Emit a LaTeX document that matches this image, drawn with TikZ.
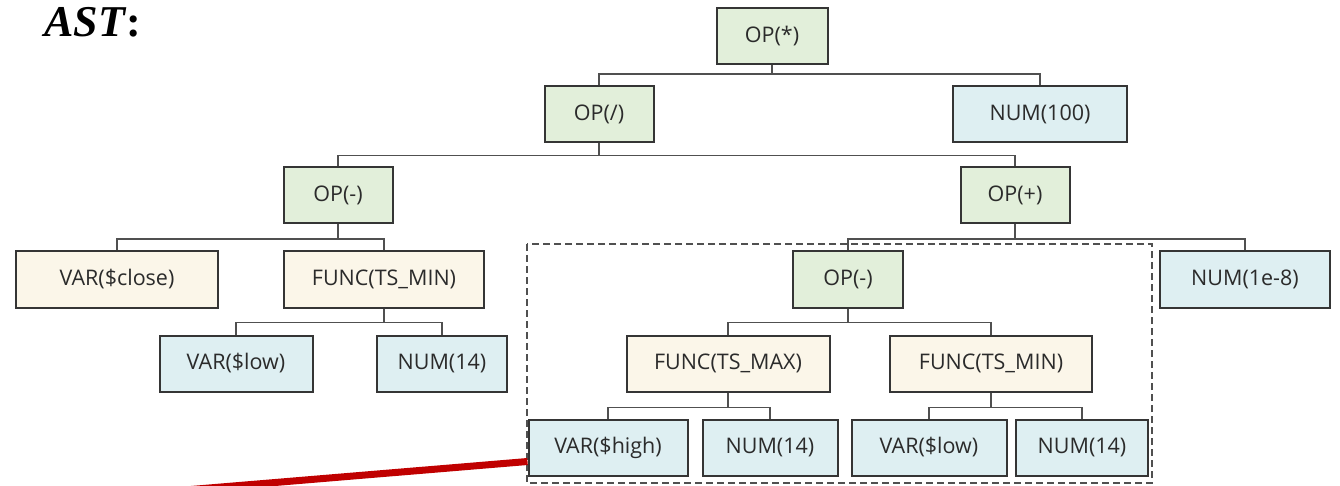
\documentclass[tikz,border=0pt]{standalone}
\usepackage{fontspec}
\setsansfont{Open Sans}
\newfontfamily\titlefont{Liberation Serif}
\usetikzlibrary{calc}
\definecolor{gfill}{HTML}{E2EFDA}
\definecolor{cfill}{HTML}{FBF6E9}
\definecolor{bfill}{HTML}{DEEFF2}
\definecolor{bord}{HTML}{353535}
\definecolor{conncol}{HTML}{505050}
\definecolor{txt}{HTML}{2B2B2B}
\definecolor{redc}{HTML}{C00000}
\tikzset{
  box/.style={draw=bord, line width=2pt, minimum height=56pt, inner sep=0pt,
    font=\sffamily\fontsize{21.5}{25}\selectfont, text=txt},
  opbox/.style={box, fill=gfill},
  fnbox/.style={box, fill=cfill},
  lfbox/.style={box, fill=bfill},
  conn/.style={draw=conncol, line width=1.7pt},
  dashbox/.style={draw=conncol, line width=1.6pt, dash pattern=on 7pt off 4pt},
  redline/.style={draw=redc, line width=7pt},
}
\begin{document}
\begin{tikzpicture}[x=1pt,y=-1pt]
\clip (0,0) rectangle (1340,486);
\node[anchor=base west, font=\titlefont\bfseries\fontsize{44}{48}\selectfont, inner sep=0pt] (title) at (44,37) {\textit{AST}:};

\node[opbox, minimum width=111pt] (root) at (772,36) {OP(*)};
\node[opbox, minimum width=109pt] (opdiv) at (599,114.5) {OP(/)};
\node[lfbox, minimum width=174pt] (num100) at (1040,114.5) {NUM(100)};
\node[opbox, minimum width=109pt] (opsub) at (338,195) {OP(-)};
\node[opbox, minimum width=109pt] (opadd) at (1015,195) {OP(+)};
\node[fnbox, minimum width=202pt] (varclose) at (117,279.5) {VAR(\$close)};
\node[fnbox, minimum width=200pt] (funcmin1) at (384,279.5) {FUNC(TS\_MIN)};
\node[lfbox, minimum width=153pt] (varlow1) at (236,363.5) {VAR(\$low)};
\node[lfbox, minimum width=130pt] (num14a) at (442,363.5) {NUM(14)};
\node[opbox, minimum width=110pt] (opsub2) at (848,279.5) {OP(-)};
\node[lfbox, minimum width=170pt] (num1e8) at (1245,279.5) {NUM(1e-8)};
\node[fnbox, minimum width=203pt] (funcmax) at (728,363.5) {FUNC(TS\_MAX)};
\node[fnbox, minimum width=202pt] (funcmin2) at (991,363.5) {FUNC(TS\_MIN)};
\node[lfbox, minimum width=159pt] (varhigh) at (608,447.5) {VAR(\$high)};
\node[lfbox, minimum width=135pt] (num14b) at (770,447.5) {NUM(14)};
\node[lfbox, minimum width=155pt] (varlow2) at (929,447.5) {VAR(\$low)};
\node[lfbox, minimum width=132pt] (num14c) at (1082,447.5) {NUM(14)};

\draw[conn] (root.south) -- ++(0,9) -| (opdiv.north);
\draw[conn] (root.south) -- ++(0,9) -| (num100.north);
\draw[conn] (opdiv.south) -- ++(0,12) -| (opsub.north);
\draw[conn] (opdiv.south) -- ++(0,12) -| (opadd.north);
\draw[conn] (opsub.south) -- ++(0,15) -| (varclose.north);
\draw[conn] (opsub.south) -- ++(0,15) -| (funcmin1.north);
\draw[conn] (funcmin1.south) -- ++(0,14) -| (varlow1.north);
\draw[conn] (funcmin1.south) -- ++(0,14) -| (num14a.north);
\draw[conn] (opadd.south) -- ++(0,15) -| (opsub2.north);
\draw[conn] (opadd.south) -- ++(0,15) -| (num1e8.north);
\draw[conn] (opsub2.south) -- ++(0,14) -| (funcmax.north);
\draw[conn] (opsub2.south) -- ++(0,14) -| (funcmin2.north);
\draw[conn] (funcmax.south) -- ++(0,15) -| (varhigh.north);
\draw[conn] (funcmax.south) -- ++(0,15) -| (num14b.north);
\draw[conn] (funcmin2.south) -- ++(0,15) -| (varlow2.north);
\draw[conn] (funcmin2.south) -- ++(0,15) -| (num14c.north);

\coordinate (dbtl) at (527,244);
\coordinate (dbbr) at (1152,483);
\draw[dashbox] (dbtl) rectangle (dbbr);

\coordinate (redend) at (185,490);
\draw[redline] ([yshift=-14pt]varhigh.west) -- (redend);
\end{tikzpicture}
\end{document}
